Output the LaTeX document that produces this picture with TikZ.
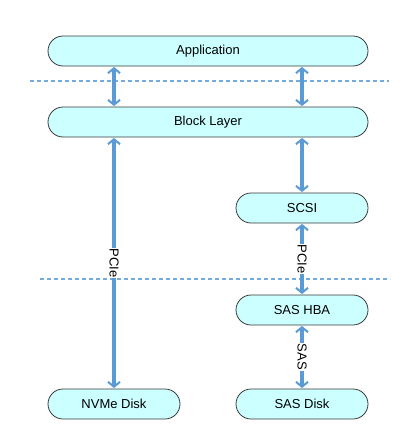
\documentclass[tikz,border=0pt]{standalone}
\usepackage{fontspec}
\setmainfont{Liberation Sans}
\usetikzlibrary{arrows.meta}
\definecolor{boxfill}{HTML}{CCFFFF}
\definecolor{boxline}{HTML}{3A3A3A}
\definecolor{arr}{HTML}{5B9BD5}
\definecolor{dashc}{HTML}{74ABDD}
\tikzset{
  layerbox/.style={draw=boxline, line width=0.8pt, fill=boxfill, rounded corners=15pt,
    minimum height=30pt, inner sep=0pt, font=\fontsize{13}{15}\selectfont},
  link/.style={draw=arr, line width=3.2pt, {Straight Barb[length=5pt,width=12pt,line width=2pt]}-{Straight Barb[length=5pt,width=12pt,line width=2pt]}, shorten <=0.5pt, shorten >=0.5pt},
  sep/.style={draw=dashc, line width=1.2pt, dash pattern=on 4pt off 3pt},
  lbl/.style={fill=white, text=black, inner sep=1pt, rotate=-90, font=\fontsize{13}{15}\selectfont}
}
\begin{document}
\begin{tikzpicture}[x=1pt,y=-1pt]
\useasboundingbox (0,0) rectangle (403,442);
\fill[white] (0,0) rectangle (403,442);
% separators
\coordinate (s1a) at (30,81);
\coordinate (s1b) at (389,81);
\coordinate (s2a) at (40,279);
\coordinate (s2b) at (390,279);
\draw[sep] (s1a) -- (s1b);
\draw[sep] (s2a) -- (s2b);
% boxes
\node[layerbox, minimum width=320pt] (app) at (208,51) {Application};
\node[layerbox, minimum width=320pt] (blk) at (208,122) {Block Layer};
\node[layerbox, minimum width=132pt] (scsi) at (302,208) {SCSI};
\node[layerbox, minimum width=132pt] (hba) at (302,310) {SAS HBA};
\node[layerbox, minimum width=132pt] (nvme) at (114,404) {NVMe Disk};
\node[layerbox, minimum width=132pt] (sasd) at (302,404) {SAS Disk};
% connectors
\draw[link] (app.south -| nvme.north) -- (blk.north -| nvme.north);
\draw[link] (app.south -| scsi.north) -- (blk.north -| scsi.north);
\draw[link] (blk.south -| scsi.north) -- (scsi.north);
\draw[link] (blk.south -| nvme.north) -- node[lbl] {PCIe} (nvme.north);
\draw[link] (scsi.south) -- node[lbl] {PCIe} (hba.north);
\draw[link] (hba.south) -- node[lbl] {SAS} (sasd.north);
\end{tikzpicture}
\end{document}
